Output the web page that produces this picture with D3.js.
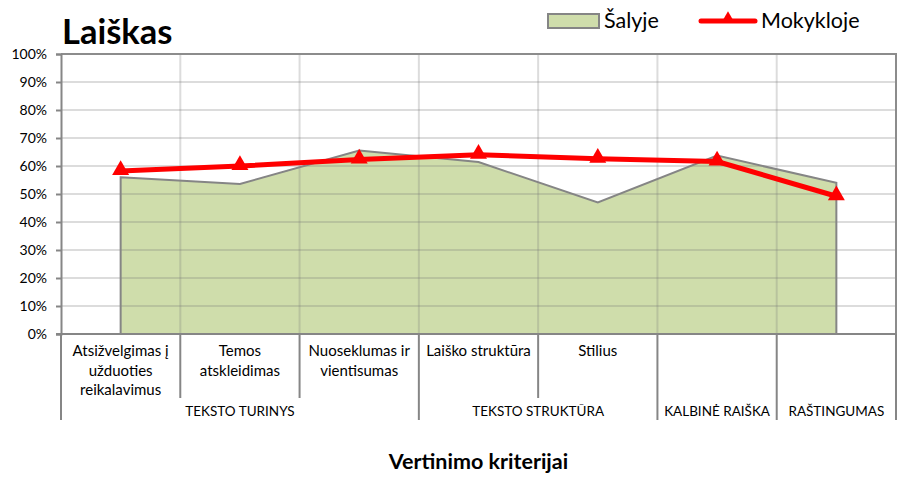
<!DOCTYPE html>
<html>
<head>
<meta charset="utf-8">
<script src="https://cdn.jsdelivr.net/npm/d3@7"></script>
<style>
  body { margin: 0; background: #fff; }
  svg { font-family: Lato, "Open Sans", sans-serif; }
</style>
</head>
<body>
<div id="chart"></div>
<script>
// Chart data
var categories = ["c1", "c2", "c3", "c4", "c5", "c6", "c7"];
var categoryLines = [
  ["Atsižvelgimas į", "užduoties", "reikalavimus"],
  ["Temos", "atskleidimas"],
  ["Nuoseklumas ir", "vientisumas"],
  ["Laiško struktūra"],
  ["Stilius"],
  [],
  []
];
var groupNames = ["TEKSTO TURINYS", "TEKSTO STRUKTŪRA", "KALBINĖ RAIŠKA", "RAŠTINGUMAS"];
var groupSizes = [3, 2, 1, 1];
var salyje = [56, 53.6, 65.5, 61.4, 47, 63.7, 54];
var mokykloje = [58.2, 60, 62.3, 64, 62.6, 61.6, 49.2];
var yTicks = [0, 10, 20, 30, 40, 50, 60, 70, 80, 90, 100];

var svgWidth = 905;
var svgHeight = 477;

// plot area
var plot = { left: 61, right: 896, top: 54, bottom: 334 };

var svg = d3.select("#chart")
  .append("svg")
  .attr("width", svgWidth)
  .attr("height", svgHeight);

var x = d3.scaleBand()
  .domain(categories)
  .range([plot.left, plot.right])
  .padding(0);

var y = d3.scaleLinear()
  .domain([0, 100])
  .range([plot.bottom, plot.top]);

var cx = function (i) { return x(categories[i]) + x.bandwidth() / 2; };

// Area series (Šalyje) fill
var area = d3.area()
  .x(function (d, i) { return cx(i); })
  .y0(y(0))
  .y1(function (d) { return y(d); });

svg.append("path")
  .datum(salyje)
  .attr("d", area)
  .attr("fill", "#cfddab");

// gridlines, drawn over the fill so they show through
var grid = svg.append("g")
  .attr("stroke", "rgba(120,120,120,0.26)")
  .attr("stroke-width", 2);

grid.selectAll("line.h")
  .data(yTicks.slice(1, -1))
  .enter()
  .append("line")
  .attr("x1", plot.left)
  .attr("x2", plot.right)
  .attr("y1", function (d) { return y(d); })
  .attr("y2", function (d) { return y(d); });

grid.selectAll("line.v")
  .data(categories.slice(1))
  .enter()
  .append("line")
  .attr("x1", function (d) { return x(d); })
  .attr("x2", function (d) { return x(d); })
  .attr("y1", plot.top)
  .attr("y2", plot.bottom);

// area outline
svg.append("path")
  .datum(salyje)
  .attr("d", area)
  .attr("fill", "none")
  .attr("stroke", "#858585")
  .attr("stroke-width", 2);

// plot border (top + right)
svg.append("path")
  .attr("d", "M" + plot.left + "," + plot.top + "H" + plot.right + "V" + plot.bottom)
  .attr("fill", "none")
  .attr("stroke", "#8c8c8c")
  .attr("stroke-width", 2);

// Y axis
var leftAxis = d3.axisLeft(y)
  .tickValues(yTicks)
  .tickSize(5)
  .tickPadding(9)
  .tickFormat(function (d) { return d + "%"; });

var yAxis = svg.append("g")
  .attr("transform", "translate(" + plot.left + ",0)")
  .call(leftAxis);
yAxis.select(".domain").attr("stroke", "#868686").attr("stroke-width", 2);
yAxis.selectAll(".tick line").attr("stroke", "#868686").attr("stroke-width", 2);
yAxis.selectAll(".tick text")
  .attr("font-family", "Lato, sans-serif")
  .attr("font-size", 14)
  .attr("fill", "#000");

// X axis line
svg.append("line")
  .attr("x1", plot.left - 5)
  .attr("x2", plot.right)
  .attr("y1", plot.bottom)
  .attr("y2", plot.bottom)
  .attr("stroke", "#868686")
  .attr("stroke-width", 2);

// category separators under the axis
var groupStart = [0];
groupSizes.forEach(function (s, i) { groupStart.push(groupStart[i] + s); });

var bounds = d3.range(categories.length + 1);
svg.append("g")
  .selectAll("line")
  .data(bounds)
  .enter()
  .append("line")
  .attr("x1", function (i) { return i < categories.length ? x(categories[i]) : plot.right; })
  .attr("x2", function (i) { return i < categories.length ? x(categories[i]) : plot.right; })
  .attr("y1", plot.bottom)
  .attr("y2", function (i) { return groupStart.indexOf(i) >= 0 ? 420 : 398; })
  .attr("stroke", "#868686")
  .attr("stroke-width", 2);

// category labels
var catLabels = svg.append("g")
  .attr("font-size", 15)
  .attr("text-anchor", "middle")
  .attr("fill", "#000");

categoryLines.forEach(function (lines, i) {
  lines.forEach(function (t, j) {
    catLabels.append("text")
      .attr("x", cx(i))
      .attr("y", 356 + j * 19.5)
      .text(t);
  });
});

// group labels
svg.append("g")
  .attr("font-size", 13.5)
  .attr("text-anchor", "middle")
  .selectAll("text")
  .data(groupNames)
  .enter()
  .append("text")
  .attr("x", function (d, i) {
    var a = x(categories[groupStart[i]]);
    var b = groupStart[i + 1] < categories.length ? x(categories[groupStart[i + 1]]) : plot.right;
    return (a + b) / 2;
  })
  .attr("y", 416)
  .text(function (d) { return d; });

// Line series (Mokykloje)
var line = d3.line()
  .x(function (d, i) { return cx(i); })
  .y(function (d) { return y(d); });

svg.append("path")
  .datum(mokykloje)
  .attr("d", line)
  .attr("fill", "none")
  .attr("stroke", "#ff0000")
  .attr("stroke-width", 5)
  .attr("stroke-linejoin", "round");

var tri = d3.symbol().type(d3.symbolTriangle).size(125);

svg.append("g")
  .selectAll("path")
  .data(mokykloje)
  .enter()
  .append("path")
  .attr("d", tri)
  .attr("transform", function (d, i) { return "translate(" + cx(i) + "," + (y(d) - 1) + ")"; })
  .attr("fill", "#ff0000");

// Title
svg.append("text")
  .attr("x", 62)
  .attr("y", 44)
  .attr("font-size", 34.5)
  .attr("font-weight", "bold")
  .text("Laiškas");

// Axis title
svg.append("text")
  .attr("x", (plot.left + plot.right) / 2)
  .attr("y", 469)
  .attr("text-anchor", "middle")
  .attr("font-size", 21.5)
  .attr("font-weight", "bold")
  .text("Vertinimo kriterijai");

// Legend
var legend = svg.append("g");
legend.append("rect")
  .attr("x", 548)
  .attr("y", 14)
  .attr("width", 51)
  .attr("height", 14)
  .attr("fill", "#cfddab")
  .attr("stroke", "#858585")
  .attr("stroke-width", 2);
legend.append("text")
  .attr("x", 604)
  .attr("y", 28)
  .attr("font-size", 21.5)
  .text("Šalyje");
legend.append("line")
  .attr("x1", 701)
  .attr("x2", 755)
  .attr("y1", 21)
  .attr("y2", 21)
  .attr("stroke", "#ff0000")
  .attr("stroke-width", 5)
  .attr("stroke-linecap", "round");
legend.append("path")
  .attr("d", d3.symbol().type(d3.symbolTriangle).size(80))
  .attr("transform", "translate(728,19)")
  .attr("fill", "#ff0000");
legend.append("text")
  .attr("x", 761)
  .attr("y", 28)
  .attr("font-size", 21.5)
  .text("Mokykloje");
</script>
</body>
</html>
